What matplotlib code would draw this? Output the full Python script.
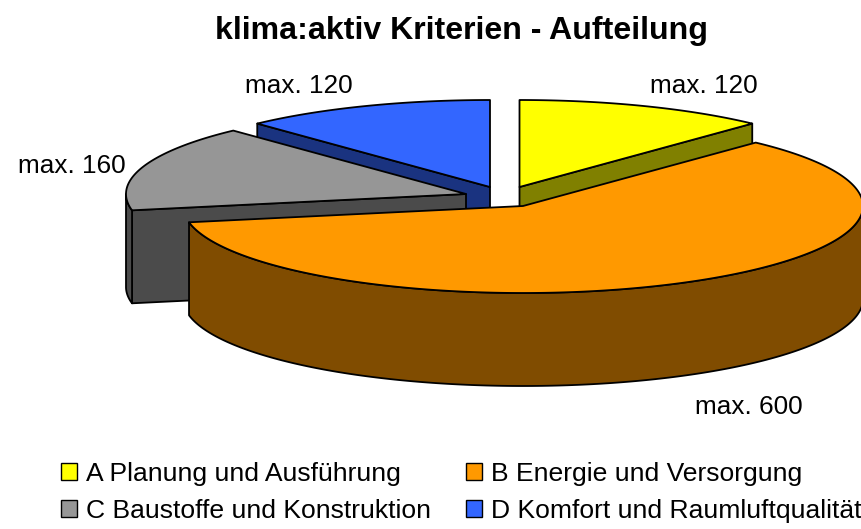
import numpy as np
import matplotlib
matplotlib.use("Agg")
import matplotlib.pyplot as plt
from matplotlib.patches import Polygon, Patch

plt.rcParams['font.family'] = ['Liberation Sans', 'DejaVu Sans']

title = "klima:aktiv Kriterien - Aufteilung"
categories = ["A Planung und Ausführung", "B Energie und Versorgung",
              "C Baustoffe und Konstruktion", "D Komfort und Raumluftqualität"]
values = [120, 600, 160, 120]
value_labels = ["max. 120", "max. 600", "max. 160", "max. 120"]

top_colors = ["#FFFF00", "#FF9900", "#969696", "#3366FF"]
side_colors = ["#808000", "#804C00", "#4B4B4B", "#1A3380"]
apex_x = [519.5, 523, 466, 490]
apex_y = [187, 206, 194, 187]
label_pos = [(704, 86), (749, 407), (72, 166), (299, 86)]
RX, RY, DEPTH = 340, 87, 93
EDGE = dict(edgecolor="black", linewidth=1.3, joinstyle="round")

fig = plt.figure(figsize=(8.62, 5.29), dpi=100)
ax = fig.add_axes([0, 0, 1, 1])
ax.set_xlim(0, 862)
ax.set_ylim(529, 0)
ax.axis("off")

fractions = np.array(values, dtype=float) / sum(values)
ends = np.cumsum(fractions) * 2 * np.pi
starts = ends - fractions * 2 * np.pi


def rim(cx, cy, t):
    return cx + RX * np.sin(t), cy - RY * np.cos(t)


for i in [3, 0, 2, 1]:
    a, b, cx, cy = starts[i], ends[i], apex_x[i], apex_y[i]
    # cut faces that look towards the viewer
    for t, visible in ((a, np.sin(a) < -1e-6), (b, np.sin(b) > 1e-6)):
        if visible:
            x, y = rim(cx, cy, t)
            ax.add_patch(Polygon([(cx, cy), (x, y), (x, y + DEPTH), (cx, cy + DEPTH)],
                                 facecolor=side_colors[i], **EDGE))
    # outer wall
    w0, w1 = max(a, np.pi / 2), min(b, 3 * np.pi / 2)
    if w1 > w0:
        t = np.linspace(w0, w1, 200)
        x, y = rim(cx, cy, t)
        pts = np.r_[np.c_[x, y], np.c_[x, y + DEPTH][::-1]]
        ax.add_patch(Polygon(pts, facecolor=side_colors[i], **EDGE))
    # top surface
    t = np.linspace(a, b, 300)
    x, y = rim(cx, cy, t)
    pts = np.r_[[(cx, cy)], np.c_[x, y]]
    ax.add_patch(Polygon(pts, facecolor=top_colors[i], **EDGE))

for (x, y), s in zip(label_pos, value_labels):
    ax.text(x, y, s, ha="center", va="center", fontsize=18.8, color="black")

ax.text(462, 31, title, ha="center", va="center", fontsize=23.1, fontweight="bold", color="black")

order = [0, 2, 1, 3]
handles = [Patch(facecolor=top_colors[i], edgecolor="black", linewidth=1.0, label=categories[i]) for i in order]
leg = ax.legend(handles=handles, ncol=2, frameon=False, fontsize=19.05,
                loc="upper left", bbox_to_anchor=(61 / 862, 1 - 462 / 529),
                borderaxespad=0, borderpad=0, handlelength=0.62, handleheight=0.62,
                handletextpad=0.34, columnspacing=1.3, labelspacing=0.5)

fig.savefig("out.png", dpi=100)
